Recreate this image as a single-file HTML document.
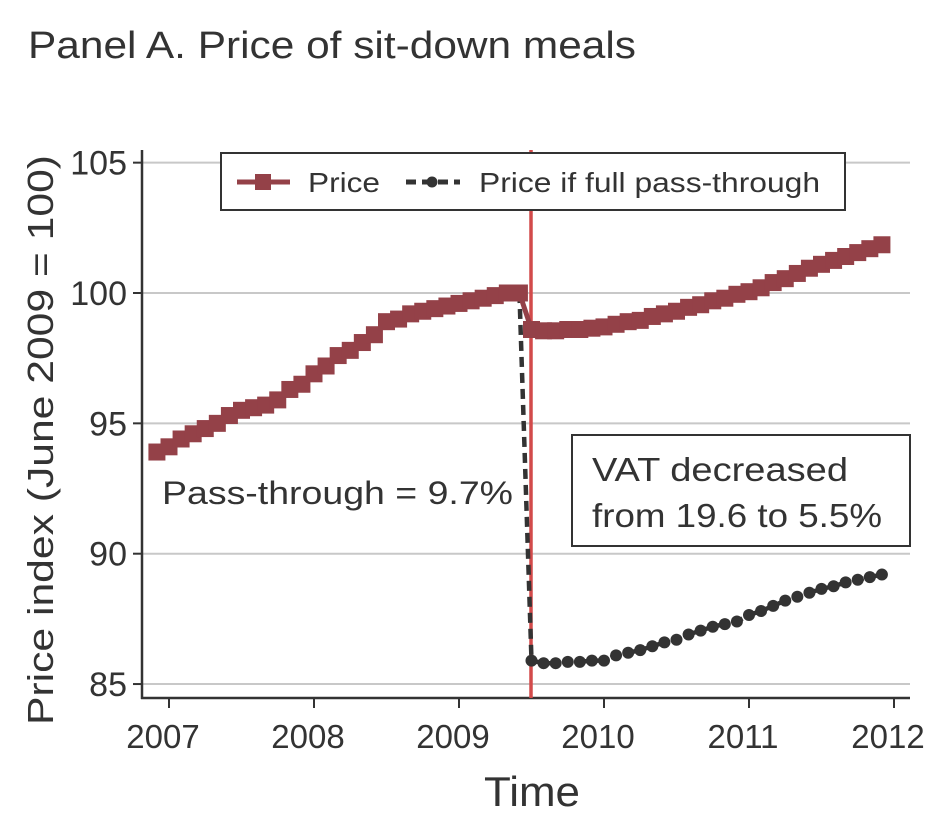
<!DOCTYPE html>
<html><head><meta charset="utf-8">
<style>
body{margin:0;background:#fff;}
svg{display:block;font-family:"Liberation Sans",Arial,sans-serif;}
</style></head>
<body>
<svg id="chart" width="936" height="830" viewBox="0 0 936 830">
<text x="28" y="58" font-size="38" textLength="608" lengthAdjust="spacingAndGlyphs" fill="#333">Panel A. Price of sit-down meals</text>
<g id="grid"></g>
<g id="axes"></g>
<line x1="531" y1="150" x2="531" y2="698" stroke="#d24a4a" stroke-width="3.5"/>
<g id="series"></g>
<rect x="221" y="153" width="624" height="57" fill="#fff" stroke="#333" stroke-width="2"/>
<g>
<line x1="237" y1="182" x2="290" y2="182" stroke="#944148" stroke-width="5"/>
<rect x="255" y="174" width="16" height="16" fill="#944148"/>
<text x="308" y="192" font-size="28" textLength="72" lengthAdjust="spacingAndGlyphs" fill="#333">Price</text>
</g>
<g>
<line x1="406" y1="182" x2="460" y2="182" stroke="#333" stroke-width="5" stroke-dasharray="10,6"/>
<circle cx="432" cy="182" r="5.5" fill="#333"/>
<text x="479" y="192" font-size="28" textLength="341" lengthAdjust="spacingAndGlyphs" fill="#333">Price if full pass-through</text>
</g>
<text x="162" y="504" font-size="32" textLength="351" lengthAdjust="spacingAndGlyphs" fill="#333">Pass-through = 9.7%</text>
<rect x="572" y="435" width="338" height="111" fill="#fff" stroke="#333" stroke-width="2"/>
<text x="592" y="481" font-size="33" textLength="256" lengthAdjust="spacingAndGlyphs" fill="#333">VAT decreased</text>
<text x="592" y="527" font-size="33" textLength="290" lengthAdjust="spacingAndGlyphs" fill="#333">from 19.6 to 5.5%</text>
<text x="532" y="806" font-size="42" textLength="96" lengthAdjust="spacingAndGlyphs" fill="#333" text-anchor="middle">Time</text>
<text transform="translate(53,440) rotate(-90)" font-size="36" textLength="570" lengthAdjust="spacingAndGlyphs" fill="#333" text-anchor="middle">Price index (June 2009 = 100)</text>
</svg>
<script>
const yTicks=[85,90,95,100,105];
const xTicks=[2007,2008,2009,2010,2011,2012];
const priceBefore=[93.9,94.1,94.4,94.6,94.8,95.0,95.3,95.5,95.6,95.7,95.9,96.3,96.5,96.9,97.2,97.6,97.8,98.1,98.4,98.9,99.0,99.2,99.3,99.4,99.5,99.6,99.7,99.8,99.9,100.0,100.0];
const priceAfter=[98.6,98.55,98.55,98.6,98.6,98.65,98.7,98.8,98.9,98.95,99.1,99.2,99.3,99.45,99.55,99.7,99.8,99.95,100.05,100.2,100.4,100.55,100.75,100.95,101.1,101.25,101.4,101.55,101.7,101.85];
const fullPassAfter=[85.9,85.8,85.8,85.85,85.85,85.9,85.9,86.1,86.2,86.3,86.45,86.6,86.7,86.9,87.05,87.2,87.3,87.4,87.65,87.8,88.0,88.2,88.35,88.5,88.65,88.75,88.9,89.0,89.1,89.2];
const startMonth=2006+11/12; // Dec 2006
const cutMonthIndex=priceBefore.length;
const NS="http://www.w3.org/2000/svg";
const X=t=>169+(t-2007)*145;
const Y=v=>293-(v-100)*26.07;
const tm=i=>startMonth+i/12;
function mk(tag,attrs,parent){const e=document.createElementNS(NS,tag);for(const k in attrs)e.setAttribute(k,attrs[k]);parent.appendChild(e);return e;}
const grid=document.getElementById('grid'),axes=document.getElementById('axes'),ser=document.getElementById('series');
yTicks.forEach(v=>{
 const g=mk('line',{x1:142,x2:910,y1:Y(v),y2:Y(v),stroke:'#c8c8c8','stroke-width':2},grid);
 
 
 const t=mk('line',{x1:133,x2:142,y1:Y(v),y2:Y(v),stroke:'#333','stroke-width':2},axes);
 
 
 const l=mk('text',{x:127,y:Y(v)+12,'font-size':34,fill:'#333','text-anchor':'end'},axes);l.textContent=v;
 
 
});
xTicks.forEach(v=>{
 const t=mk('line',{x1:X(v),x2:X(v),y1:698,y2:708,stroke:'#333','stroke-width':2},axes);
 
 
 const l=mk('text',{x:X(v)-6,y:748,'font-size':33,fill:'#333','text-anchor':'middle'},axes);l.textContent=v;
 
 
});
const ys=mk('line',{x1:142,x2:142,y1:150,y2:699,stroke:'#333','stroke-width':2.5},axes);


const xs=mk('line',{x1:141,x2:910,y1:698,y2:698,stroke:'#333','stroke-width':2.5},axes);


const fpPts=[[tm(cutMonthIndex-1),priceBefore[priceBefore.length-1]]].concat(fullPassAfter.map((v,i)=>[tm(cutMonthIndex+i),v]));
const fp=mk('polyline',{points:fpPts.map(p=>X(p[0])+','+Y(p[1])).join(' '),fill:'none',stroke:'#333','stroke-width':4.5,'stroke-dasharray':'10,6'},ser);


fullPassAfter.forEach((v,i)=>{
 const c=mk('circle',{cx:X(tm(cutMonthIndex+i)),cy:Y(v),r:6,fill:'#333'},ser);
 
 
});
const allPrice=priceBefore.concat(priceAfter);
const pl=mk('polyline',{points:allPrice.map((v,i)=>X(tm(i))+','+Y(v)).join(' '),fill:'none',stroke:'#944148','stroke-width':5},ser);


allPrice.forEach((v,i)=>{
 const r=mk('rect',{x:X(tm(i))-8.5,y:Y(v)-8.5,width:17,height:17,fill:'#944148'},ser);
 
 
});
</script>
</body></html>
